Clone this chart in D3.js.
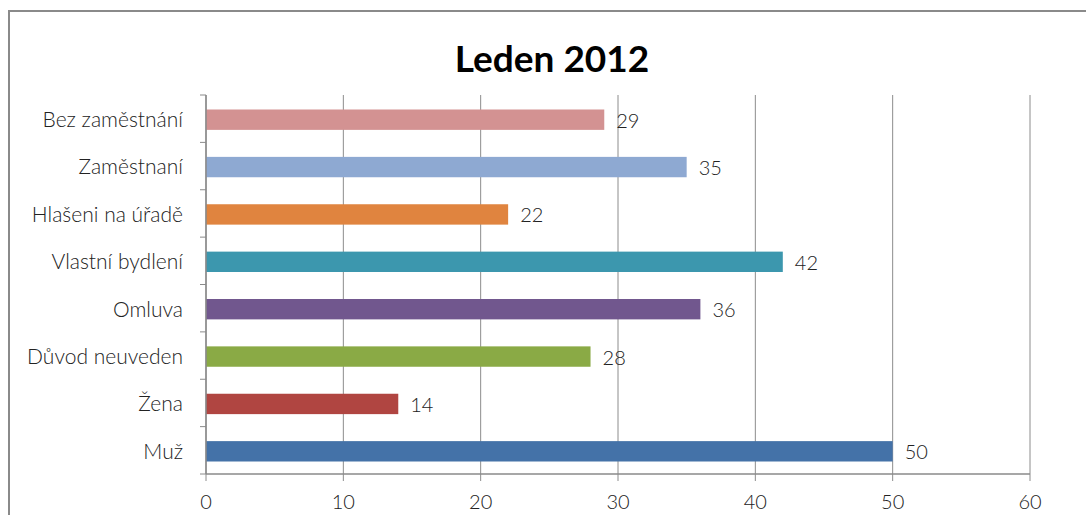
<!DOCTYPE html>
<html><head><meta charset="utf-8">
<script src="https://cdn.jsdelivr.net/npm/d3@7"></script>
<style>body{margin:0;background:#fff;} svg{display:block;}</style>
</head><body>
<svg id="c" width="1086" height="515"></svg>
<script>
const categories = ["Bez zaměstnání","Zaměstnaní","Hlašeni na úřadě","Vlastní bydlení","Omluva","Důvod neuveden","Žena","Muž"];
const values = [29,35,22,42,36,28,14,50];
const colors = ["#D39292","#8EA9D2","#E0843F","#3C97AE","#71578E","#8AAA45","#B04541","#4472A8"];
const xTicks = [0,10,20,30,40,50,60];
const title = "Leden 2012";

const svg = d3.select("#c");
const font = "Lato, 'Open Sans', sans-serif";
const L = 206, R = 1030, T = 95, B = 474;

// frame
svg.append("path").attr("d","M9,515 V11 H1086").attr("fill","none").attr("stroke","#8a8a8a").attr("stroke-width",2);

const x = d3.scaleLinear().domain([0,60]).range([L,R]);
const y = d3.scaleBand().domain(categories).range([T,B]).paddingInner(0.57).paddingOuter(0.285);

// gridlines
svg.append("g").selectAll("line").data(xTicks).join("line")
  .attr("x1",d=>x(d)).attr("x2",d=>x(d)).attr("y1",T).attr("y2",B+7)
  .attr("stroke","#8c8c8c").attr("stroke-width",1);

// bars
svg.append("g").selectAll("rect").data(values).join("rect")
  .attr("x",x(0)).attr("y",(d,i)=>y(categories[i])+1)
  .attr("width",d=>x(d)-x(0)).attr("height",y.bandwidth())
  .attr("fill",(d,i)=>colors[i]);

// value labels
svg.append("g").selectAll("text").data(values).join("text")
  .attr("x",d=>x(d)+12).attr("y",(d,i)=>y(categories[i])+2+y.bandwidth()/2)
  .attr("dy","0.35em").attr("font-family",font).attr("font-weight",300).attr("font-size",20).attr("fill","#222")
  .text(d=>d);

// y axis
const step = (B-T)/categories.length;
const yAxis = svg.append("g");
yAxis.append("line").attr("x1",L).attr("x2",L).attr("y1",T).attr("y2",B).attr("stroke","#8a8a8a").attr("stroke-width",1.5);
yAxis.selectAll("line.t").data(d3.range(categories.length+1)).join("line").attr("class","t")
  .attr("x1",L-6).attr("x2",L).attr("y1",i=>T+i*step).attr("y2",i=>T+i*step).attr("stroke","#8a8a8a");
yAxis.selectAll("text").data(categories).join("text")
  .attr("x",183).attr("y",d=>y(d)+1+y.bandwidth()/2).attr("dy","0.35em").attr("text-anchor","end")
  .attr("font-family",font).attr("font-weight",300).attr("font-size",21).attr("fill","#222").text(d=>d);

// x axis
const xAxis = svg.append("g");
xAxis.append("line").attr("x1",L).attr("x2",R).attr("y1",B).attr("y2",B).attr("stroke","#8a8a8a").attr("stroke-width",1.5);
xAxis.selectAll("text").data(xTicks).join("text")
  .attr("x",d=>x(d)).attr("y",509).attr("text-anchor","middle")
  .attr("font-family",font).attr("font-weight",300).attr("font-size",20).attr("fill","#222").text(d=>d);

// title
svg.append("text").attr("x",552).attr("y",72).attr("text-anchor","middle")
  .attr("font-family",font).attr("font-weight","bold").attr("font-size",37).attr("fill","#000").text(title);
</script>
</body></html>
